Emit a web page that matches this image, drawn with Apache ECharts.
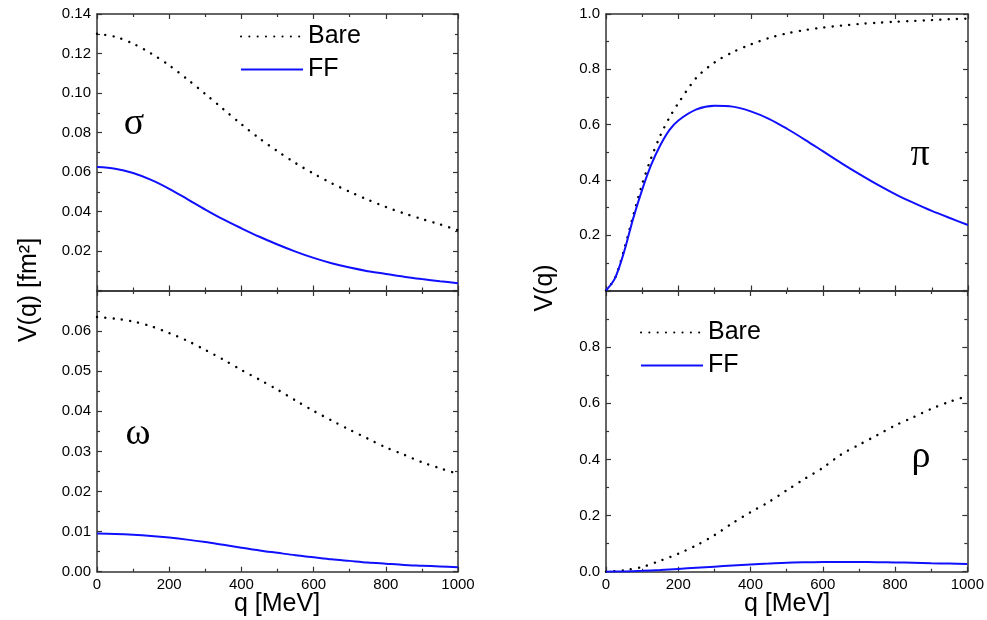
<!DOCTYPE html>
<html><head><meta charset="utf-8">
<script src="https://cdn.jsdelivr.net/npm/echarts@6/dist/echarts.min.js"></script>
<style>html,body{margin:0;padding:0;background:#fff}#c{width:987px;height:620px}</style>
</head><body><div id="c"></div>
<script>
// q grid [MeV]
const q = [0,50,100,150,200,250,300,350,400,450,500,550,600,650,700,750,800,850,900,950,1000];
const qPi = [0,25,50,75,100,125,150,175,200,250,300,350,400,450,500,550,600,650,700,750,800,850,900,950,1000];

// sigma [fm^2]
const sigmaBare = [0.130,0.1285,0.125,0.120,0.114,0.107,0.0995,0.0918,0.0842,0.0770,0.0705,0.0645,0.0592,0.0543,0.0500,0.0460,0.0423,0.0391,0.0362,0.0335,0.0305];
const sigmaFF   = [0.0625,0.0617,0.0595,0.0560,0.0515,0.0463,0.0410,0.0360,0.0315,0.0272,0.0233,0.0197,0.0165,0.0138,0.0116,0.0098,0.0084,0.0070,0.0058,0.0047,0.0037];
// omega [fm^2]
const omegaBare = [0.0635,0.0631,0.0624,0.0612,0.0595,0.0576,0.0553,0.0529,0.0503,0.0479,0.0454,0.0427,0.0401,0.0377,0.0354,0.0332,0.0310,0.0292,0.0273,0.0258,0.0244];
const omegaFF   = [0.0095,0.0094,0.0092,0.0089,0.0085,0.0080,0.0074,0.0067,0.0060,0.0053,0.0047,0.0041,0.0036,0.0031,0.0027,0.0023,0.0020,0.0017,0.0015,0.0013,0.0011];
// pi
const piBare = [0,0.045,0.148,0.270,0.385,0.480,0.560,0.625,0.678,0.770,0.825,0.862,0.890,0.913,0.930,0.942,0.951,0.958,0.964,0.968,0.972,0.975,0.978,0.981,0.983];
const piFF   = [0,0.045,0.140,0.260,0.365,0.455,0.525,0.580,0.615,0.655,0.668,0.665,0.648,0.621,0.585,0.545,0.503,0.461,0.421,0.383,0.348,0.317,0.288,0.262,0.237];
// rho
const rhoBare = [0,0.005,0.017,0.039,0.064,0.094,0.130,0.173,0.212,0.248,0.290,0.331,0.370,0.417,0.452,0.486,0.521,0.550,0.580,0.605,0.626];
const rhoFF   = [0,0.001,0.003,0.006,0.010,0.014,0.018,0.022,0.026,0.029,0.032,0.0335,0.0345,0.035,0.0345,0.034,0.033,0.032,0.030,0.029,0.027];

const FONT = '"Liberation Sans", Arial, sans-serif';
const FRAME = '#333';
const lineCommon = {show:true, onZero:false, lineStyle:{color:FRAME, width:1.5}};
const tickCommon = {show:true, inside:true, length:5, lineStyle:{color:FRAME, width:1.2}};
const minorCommon = {show:true, splitNumber:2, length:3, lineStyle:{color:FRAME, width:1.2}};

function xPair(grid, labels){
  const base = {type:'value', gridIndex:grid, min:0, max:1000, interval:200,
    axisLine:lineCommon, axisTick:tickCommon, minorTick:minorCommon, splitLine:{show:false}};
  return [
    Object.assign({}, base, {position:'bottom', axisLabel:{show:labels, fontSize:15, color:'#000', fontFamily:FONT, margin:6, formatter: v => String(v)}}),
    Object.assign({}, base, {position:'top', axisLabel:{show:false}})
  ];
}
function yPair(grid, max, interval, fmt){
  const base = {type:'value', gridIndex:grid, min:0, max:max, interval:interval,
    axisLine:lineCommon, axisTick:tickCommon, minorTick:minorCommon, splitLine:{show:false}};
  return [
    Object.assign({}, base, {position:'left', axisLabel:{show:true, fontSize:15, color:'#000', fontFamily:FONT, margin:6, formatter:fmt}}),
    Object.assign({}, base, {position:'right', axisLabel:{show:false}})
  ];
}

function pts(xs, ys){ return xs.map((x,i)=>[x, ys[i]]); }
function bare(xi, yi, xs, ys){
  return {name:'Bare', type:'line', xAxisIndex:xi, yAxisIndex:yi, data:pts(xs,ys), smooth:0.3,
    showSymbol:false, symbol:'none', silent:true,
    lineStyle:{color:'#000', width:2.4, type:[0.1,8.2], cap:'round'}, itemStyle:{color:'#000'}};
}
function ff(xi, yi, xs, ys){
  return {name:'FF', type:'line', xAxisIndex:xi, yAxisIndex:yi, data:pts(xs,ys), smooth:0.3,
    showSymbol:false, symbol:'none', silent:true,
    lineStyle:{color:'#1010ff', width:2}, itemStyle:{color:'#1010ff'}};
}

const grids = [
  {left:97, top:14, width:361, height:276.5},
  {left:97, top:291, width:361, height:280.7},
  {left:606, top:14, width:362, height:276.5},
  {left:606, top:291, width:362, height:280.7}
];

const xAxes = [].concat(xPair(0,false), xPair(1,true), xPair(2,false), xPair(3,true));
const yAxes = [].concat(
  yPair(0, 0.14, 0.02, v => Math.abs(v) < 1e-9 ? '' : v.toFixed(2)),
  yPair(1, 0.07, 0.01, v => v > 0.0695 ? '' : v.toFixed(2)),
  yPair(2, 1.0, 0.2, v => Math.abs(v) < 1e-9 ? '' : v.toFixed(1)),
  yPair(3, 1.0, 0.2, v => v > 0.999 ? '' : v.toFixed(1))
);

const series = [
  bare(0,0,q,sigmaBare), ff(0,0,q,sigmaFF),
  bare(2,2,q,omegaBare), ff(2,2,q,omegaFF),
  bare(4,4,qPi,piBare), ff(4,4,qPi,piFF),
  bare(6,6,q,rhoBare), ff(6,6,q,rhoFF)
];

const legendBase = {data:['Bare','FF'], orient:'vertical', itemWidth:62, itemHeight:24, itemGap:8,
  selectedMode:false, itemStyle:{opacity:0},
  textStyle:{fontSize:25, fontFamily:FONT, color:'#000', padding:[0,0,0,0]}};

function gtext(x, y, text, font, rot){
  return {type:'text', x:x, y:y, rotation:rot||0, silent:true,
    style:{text:text, font:font, fill:'#000', align:'center', verticalAlign:'middle'}};
}
const SERIF = '38px "Liberation Serif", "DejaVu Serif", serif';
const LAB = '25px ' + FONT;

const chart = echarts.init(document.getElementById('c'), null, {renderer:'canvas'});
chart.setOption({
  animation:false,
  backgroundColor:'#fff',
  grid:grids,
  xAxis:xAxes,
  yAxis:yAxes,
  series:series,
  legend:[
    Object.assign({}, legendBase, {left:235, top:19}),
    Object.assign({}, legendBase, {left:635, top:315})
  ],
  graphic:[
    gtext(134, 124, 'σ', SERIF),
    gtext(138, 434, 'ω', SERIF),
    gtext(920, 155, 'π', SERIF),
    gtext(921, 457, 'ρ', SERIF),
    gtext(29, 290, 'V(q) [fm²]', LAB, Math.PI/2),
    gtext(545, 288, 'V(q)', LAB, Math.PI/2),
    gtext(277, 604, 'q [MeV]', LAB),
    gtext(787, 604, 'q [MeV]', LAB)
  ]
});
</script>
</body></html>
